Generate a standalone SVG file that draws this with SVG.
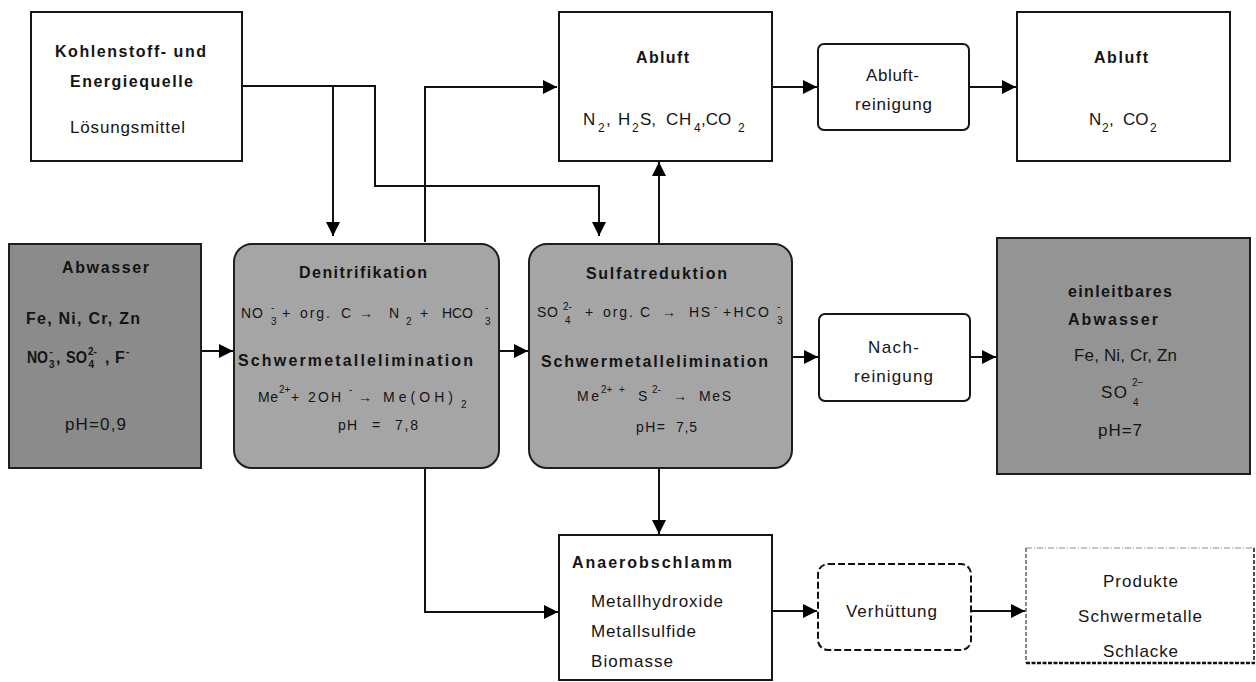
<svg xmlns="http://www.w3.org/2000/svg" width="1256" height="682" viewBox="0 0 1256 682">
<style>
text{font-family:"Liberation Sans",Arial,Helvetica,sans-serif;fill:#141414}
.b{font-weight:bold;font-size:16px}
.r{font-size:17px}
.e{font-size:14px}
.s{font-size:10px}
.box{fill:#fff;stroke:#161616;stroke-width:2}
.proc{fill:#a5a5a5;stroke:#1e1e1e;stroke-width:2}
.con{fill:none;stroke:#111;stroke-width:2}
</style>
<defs>
<marker id="ah" markerUnits="userSpaceOnUse" markerWidth="14" markerHeight="14" refX="14" refY="7" orient="auto">
<path d="M0,0 L14,7 L0,14 z" fill="#000"/>
</marker>
</defs>

<g id="connectors">
<path class="con" d="M242,86 H375 V186 H599 V236" marker-end="url(#ah)"/>
<path class="con" d="M333,86 V236" marker-end="url(#ah)"/>
<path class="con" d="M425,242 V87 H557" marker-end="url(#ah)"/>
<path class="con" d="M659,243 V162" marker-end="url(#ah)"/>
<path class="con" d="M772,87 H817" marker-end="url(#ah)"/>
<path class="con" d="M969,87 H1016" marker-end="url(#ah)"/>
<path class="con" d="M201,351 H233" marker-end="url(#ah)"/>
<path class="con" d="M499,351 H528" marker-end="url(#ah)"/>
<path class="con" d="M792,357 H818" marker-end="url(#ah)"/>
<path class="con" d="M970,357 H996" marker-end="url(#ah)"/>
<path class="con" d="M425,469 V612 H558" marker-end="url(#ah)"/>
<path class="con" d="M659,469 V534" marker-end="url(#ah)"/>
<path class="con" d="M772,611 H817" marker-end="url(#ah)"/>
<path class="con" d="M972,611 H1025" marker-end="url(#ah)"/>
<path d="M1025,611 H1040" stroke="#aaa" stroke-width="1"/>
</g>

<g id="kohlenstoff">
<rect class="box" x="31" y="12" width="211" height="149"/>
<text class="b" x="55" y="57" textLength="151" lengthAdjust="spacing">Kohlenstoff- und</text>
<text class="b" x="70" y="87" textLength="123" lengthAdjust="spacing">Energiequelle</text>
<text class="r" x="70" y="133" textLength="115" lengthAdjust="spacing">Lösungsmittel</text>
</g>

<g id="abluft1">
<rect class="box" x="559" y="12" width="213" height="149"/>
<text class="b" x="636" y="63" textLength="53" lengthAdjust="spacing">Abluft</text>
<text class="r"><tspan x="583" y="125">N</tspan><tspan font-size="12" x="598" y="132">2</tspan><tspan x="606" y="125">,</tspan><tspan x="618" y="125">H</tspan><tspan font-size="12" x="632" y="132">2</tspan><tspan x="640" y="125">S,</tspan><tspan x="666" y="125">C</tspan><tspan x="679" y="125">H</tspan><tspan font-size="12" x="694" y="132">4</tspan><tspan x="701" y="125">,CO</tspan><tspan font-size="12" x="738" y="132">2</tspan></text>
</g>

<g id="abluftreinigung">
<rect class="box" x="818" y="44" width="151" height="86" rx="6"/>
<text class="r" x="866" y="81" textLength="53" lengthAdjust="spacing">Abluft-</text>
<text class="r" x="855" y="110" textLength="77" lengthAdjust="spacing">reinigung</text>
</g>

<g id="abluft2">
<rect class="box" x="1017" y="12" width="213" height="149"/>
<text class="b" x="1094" y="63" textLength="54" lengthAdjust="spacing">Abluft</text>
<text class="r"><tspan x="1089" y="125">N</tspan><tspan font-size="12" x="1102" y="132">2</tspan><tspan x="1109" y="125">,</tspan><tspan x="1123" y="125">CO</tspan><tspan font-size="12" x="1150" y="132">2</tspan></text>
</g>

<g id="abwasser">
<rect x="9" y="244" width="192" height="224" fill="#8b8b8b" stroke="#1e1e1e" stroke-width="2"/>
<text class="b" x="62" y="273" textLength="87" lengthAdjust="spacing">Abwasser</text>
<text class="b" x="26" y="324" font-size="17" textLength="114" lengthAdjust="spacing">Fe, Ni, Cr, Zn</text>
<text class="b" font-size="17"><tspan x="27" y="363" textLength="21" lengthAdjust="spacingAndGlyphs">NO</tspan><tspan class="s" x="49.5" y="355">-</tspan><tspan class="s" x="49" y="368">3</tspan><tspan x="56" y="363">,</tspan><tspan x="66" y="363" textLength="21" lengthAdjust="spacingAndGlyphs">SO</tspan><tspan class="s" x="88" y="355">2-</tspan><tspan class="s" x="88.5" y="368">4</tspan><tspan x="105" y="363">,</tspan><tspan x="115" y="363">F</tspan><tspan class="s" x="126" y="355">-</tspan></text>
<text class="r" x="65" y="430" textLength="61" lengthAdjust="spacing">pH=0,9</text>
</g>

<g id="denitrifikation">
<rect class="proc" x="234" y="244" width="265" height="224" rx="18"/>
<text class="b" x="299" y="278" textLength="128" lengthAdjust="spacing">Denitrifikation</text>
<text class="e"><tspan x="241" y="318" textLength="22" lengthAdjust="spacing">NO</tspan><tspan class="s" x="271" y="311">-</tspan><tspan class="s" x="271" y="325">3</tspan><tspan x="282" y="318">+</tspan><tspan x="300" y="318" textLength="30" lengthAdjust="spacing">org.</tspan><tspan x="341" y="318">C</tspan><tspan x="359" y="318">→</tspan><tspan x="389" y="318">N</tspan><tspan class="s" x="406" y="325">2</tspan><tspan x="420" y="318">+</tspan><tspan x="442" y="318" textLength="31" lengthAdjust="spacing">HCO</tspan><tspan class="s" x="485" y="311">-</tspan><tspan class="s" x="485" y="325">3</tspan></text>
<text class="b" x="238" y="366" font-size="17" textLength="235" lengthAdjust="spacing">Schwermetallelimination</text>
<text class="e"><tspan x="258" y="402" textLength="20" lengthAdjust="spacing">Me</tspan><tspan class="s" x="279" y="393">2+</tspan><tspan x="291" y="402">+</tspan><tspan x="308" y="402">2</tspan><tspan x="318" y="402" textLength="23" lengthAdjust="spacing">OH</tspan><tspan class="s" x="349" y="393">-</tspan><tspan x="358" y="402">→</tspan><tspan x="383" y="402" textLength="70" lengthAdjust="spacing">Me(OH)</tspan><tspan class="s" x="461" y="408">2</tspan></text>
<text class="e"><tspan x="338" y="430" textLength="19" lengthAdjust="spacing">pH</tspan><tspan x="372" y="430">=</tspan><tspan x="395" y="430" textLength="23" lengthAdjust="spacing">7,8</tspan></text>
</g>

<g id="sulfatreduktion">
<rect class="proc" x="529" y="244" width="263" height="224" rx="18"/>
<text class="b" x="586" y="279" textLength="141" lengthAdjust="spacing">Sulfatreduktion</text>
<text class="e"><tspan x="537" y="317" textLength="21" lengthAdjust="spacing">SO</tspan><tspan class="s" x="563" y="310">2-</tspan><tspan class="s" x="565" y="324">4</tspan><tspan x="585" y="317">+</tspan><tspan x="603" y="317" textLength="30" lengthAdjust="spacing">org.</tspan><tspan x="640" y="317">C</tspan><tspan x="662" y="317">→</tspan><tspan x="689" y="317" textLength="21" lengthAdjust="spacing">HS</tspan><tspan class="s" x="714" y="310">-</tspan><tspan x="723" y="317" textLength="46" lengthAdjust="spacing">+HCO</tspan><tspan class="s" x="777" y="310">-</tspan><tspan class="s" x="777" y="324">3</tspan></text>
<text class="b" x="541" y="367" font-size="17" textLength="227" lengthAdjust="spacing">Schwermetallelimination</text>
<text class="e"><tspan x="577" y="401" textLength="22" lengthAdjust="spacing">Me</tspan><tspan class="s" x="601" y="393">2+</tspan><tspan class="s" x="619" y="393">+</tspan><tspan x="638" y="401">S</tspan><tspan class="s" x="652" y="393">2-</tspan><tspan x="673" y="401">→</tspan><tspan x="699" y="401" textLength="32" lengthAdjust="spacing">MeS</tspan></text>
<text class="e"><tspan x="636" y="432" textLength="29" lengthAdjust="spacing">pH=</tspan><tspan x="676" y="432" textLength="21" lengthAdjust="spacing">7,5</tspan></text>
</g>

<g id="nachreinigung">
<rect class="box" x="819" y="314" width="151" height="87" rx="6"/>
<text class="r" x="868" y="353" textLength="51" lengthAdjust="spacing">Nach-</text>
<text class="r" x="854" y="382" textLength="79" lengthAdjust="spacing">reinigung</text>
</g>

<g id="einleitbares">
<rect x="997" y="238" width="253" height="236" fill="#949494" stroke="#1e1e1e" stroke-width="2"/>
<text class="b" x="1068" y="297" textLength="104" lengthAdjust="spacing">einleitbares</text>
<text class="b" x="1068" y="325" textLength="90" lengthAdjust="spacing">Abwasser</text>
<text class="r" x="1074" y="361" font-size="14" textLength="103" lengthAdjust="spacing">Fe, Ni, Cr, Zn</text>
<text class="r"><tspan x="1101" y="398" textLength="26" lengthAdjust="spacing">SO</tspan><tspan class="s" x="1132" y="386">2−</tspan><tspan class="s" x="1133" y="406">4</tspan></text>
<text class="r" x="1098" y="436" textLength="44" lengthAdjust="spacing">pH=7</text>
</g>

<g id="anaerobschlamm">
<rect class="box" x="559" y="535" width="213" height="145"/>
<text class="b" x="572" y="568" textLength="160" lengthAdjust="spacing">Anaerobschlamm</text>
<text class="r" x="591" y="607" textLength="132" lengthAdjust="spacing">Metallhydroxide</text>
<text class="r" x="591" y="637" textLength="105" lengthAdjust="spacing">Metallsulfide</text>
<text class="r" x="591" y="667" textLength="82" lengthAdjust="spacing">Biomasse</text>
</g>

<g id="verhuettung">
<rect x="818" y="564" width="153" height="86" rx="10" fill="#fff" stroke="#111" stroke-width="2" stroke-dasharray="7 3"/>
<text class="r" x="846" y="617" textLength="91" lengthAdjust="spacing">Verhüttung</text>
</g>

<g id="produkte">
<rect x="1026" y="548" width="229" height="114" fill="#fff" stroke="none"/>
<path d="M1026,548 H1255" stroke="#888" stroke-width="1" stroke-dasharray="6 2 1 2" fill="none"/>
<path d="M1026,548 V663" stroke="#111" stroke-width="1" stroke-dasharray="4 2" fill="none"/>
<path d="M1254,548 V663" stroke="#111" stroke-width="1.5" stroke-dasharray="4 2" fill="none"/>
<path d="M1026,663 H1255" stroke="#111" stroke-width="2.5" stroke-dasharray="4 1.5" fill="none"/>
<text class="r" x="1103" y="587" textLength="75" lengthAdjust="spacing">Produkte</text>
<text class="r" x="1078" y="622" textLength="124" lengthAdjust="spacing">Schwermetalle</text>
<text class="r" x="1103" y="657" textLength="75" lengthAdjust="spacing">Schlacke</text>
</g>
</svg>
